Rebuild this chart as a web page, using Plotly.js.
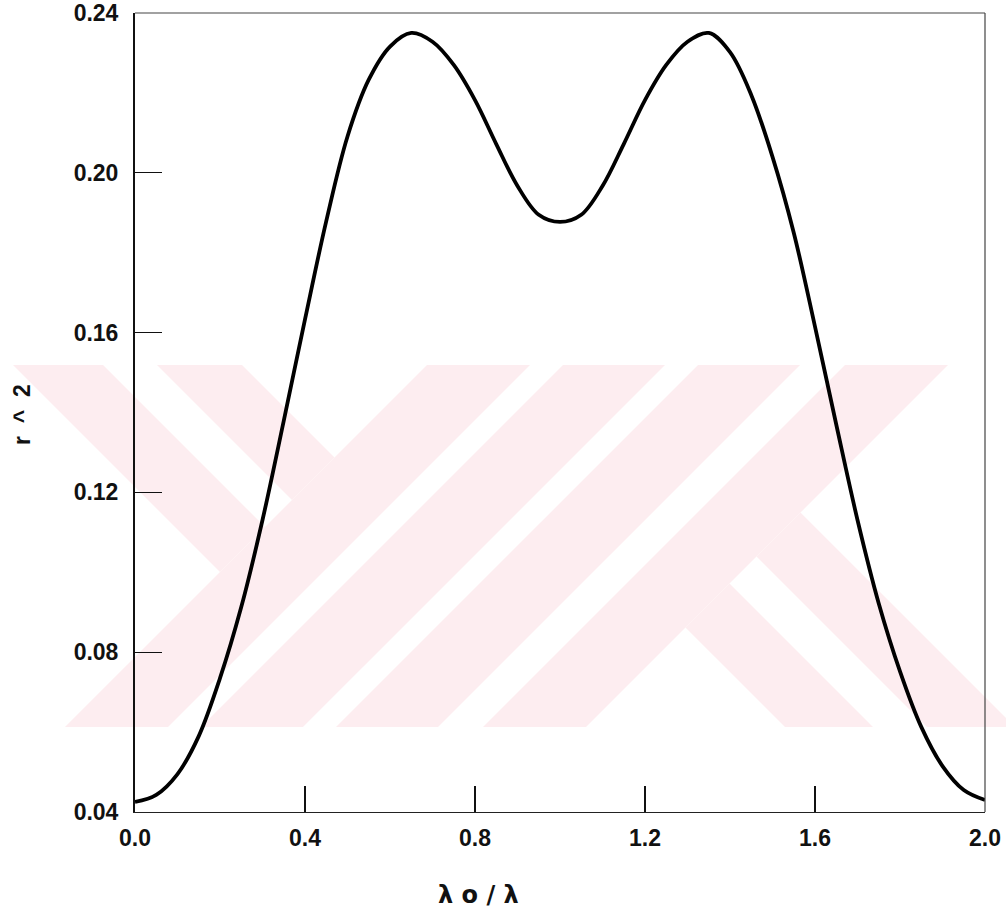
<!DOCTYPE html>
<html>
<head>
<meta charset="utf-8">
<script src="https://cdn.plot.ly/plotly-3.0.1.min.js"></script>
<style>html,body{margin:0;padding:0;background:#fff;} #chart{width:1006px;height:910px;}</style>
</head>
<body>
<div id="chart"></div>
<script>
// ---- data ----
const xValues = [0.00,0.05,0.10,0.15,0.20,0.25,0.30,0.35,0.40,0.45,0.50,0.55,0.60,0.65,0.70,0.75,0.80,0.85,0.90,0.95,
                 1.00,1.05,1.10,1.15,1.20,1.25,1.30,1.35,1.40,1.45,1.50,1.55,1.60,1.65,1.70,1.75,1.80,1.85,1.90,1.95,2.00];
const rSquared = [0.0425,0.0443,0.0495,0.0590,0.0735,0.0913,0.1131,0.1379,0.1633,0.1879,0.2091,0.2233,0.2316,0.2350,0.2328,0.2270,0.2182,0.2072,0.1967,0.1895,
                  0.1877,0.1895,0.1967,0.2072,0.2182,0.2270,0.2328,0.2350,0.2302,0.2195,0.2040,0.1850,0.1615,0.1370,0.1131,0.0922,0.0752,0.0613,0.0515,0.0455,0.0430];
const xTickVals = [0.0,0.4,0.8,1.2,1.6,2.0];
const xTickText = ['0.0','0.4','0.8','1.2','1.6','2.0'];
const yTickVals = [0.04,0.08,0.12,0.16,0.20,0.24];
const yTickText = ['0.04','0.08','0.12','0.16','0.20','0.24'];
const xTitle = 'λ\u00a0o\u00a0/\u00a0λ';
const yTitle = 'r\u00a0\u00a0^\u00a0\u00a02';

// ---- background watermark (pixel polygons converted to paper coords) ----
const L = 135, R = 985, T = 13, B = 812;
function toPaper(pts){
  return 'M ' + pts.map(p => ((p[0]-L)/(R-L)).toFixed(4) + ',' + ((B-p[1])/(B-T)).toFixed(4)).join(' L ') + ' Z';
}
const wmPolys = [
  [[13,365],[103,365],[265,527],[220,572]],
  [[157,365],[242,365],[334.5,457.5],[292,500]],
  [[427,365],[530,365],[168,727],[65,727]],
  [[563,365],[665,365],[303,727],[201,727]],
  [[698,365],[800,365],[438,727],[336,727]],
  [[845,365],[948,365],[586,727],[483,727]],
  [[685.5,627.5],[729.5,583.5],[873,727],[785,727]],
  [[756.5,556.5],[800.5,512.5],[1006,718],[1006,727],[927,727]]
];
const shapes = wmPolys.map(p => ({
  type:'path', xref:'paper', yref:'paper', path: toPaper(p),
  fillcolor:'#fdedf0', line:{width:0}, layer:'below'
}));
// thin top and right frame lines
shapes.push({type:'line', xref:'paper', yref:'paper', x0:0, x1:1, y0:1, y1:1, line:{color:'#444', width:1.2}});
shapes.push({type:'line', xref:'paper', yref:'paper', x0:1, x1:1, y0:0, y1:1, line:{color:'#444', width:1.2}});

const trace = {
  x: xValues, y: rSquared, type:'scatter', mode:'lines',
  line:{color:'#000', width:3.8, shape:'spline', smoothing:1},
  hoverinfo:'skip'
};

const tickFont = {family:'"Liberation Sans", Arial, sans-serif', size:23, color:'#111', weight:'bold'};

const layout = {
  width:1006, height:910,
  margin:{l:L, r:1006-R, t:T, b:910-B, pad:0},
  paper_bgcolor:'#fff', plot_bgcolor:'rgba(0,0,0,0)',
  showlegend:false,
  shapes: shapes,
  xaxis:{
    range:[0,2], tickmode:'array', tickvals:xTickVals, ticktext:xTickText,
    ticks:'inside', ticklen:26, tickwidth:1.5, tickcolor:'#111',
    showline:true, linecolor:'#222', linewidth:1.4, mirror:false,
    showgrid:false, zeroline:false, tickfont:tickFont, ticklabelstandoff:5
  },
  yaxis:{
    range:[0.04,0.24], tickmode:'array', tickvals:yTickVals, ticktext:yTickText,
    ticks:'inside', ticklen:27, tickwidth:1.2, tickcolor:'#111',
    showline:true, linecolor:'#111', linewidth:2, mirror:false,
    showgrid:false, zeroline:false, tickfont:tickFont, ticklabelstandoff:10
  },
  annotations:[
    {text:xTitle, xref:'paper', yref:'paper', x:(478-L)/(R-L), y:(B-895)/(B-T),
     showarrow:false, xanchor:'center', yanchor:'middle',
     font:{family:'"DejaVu Sans", sans-serif', size:24, color:'#111', weight:'bold'}},
    {text:yTitle, xref:'paper', yref:'paper', x:(22-L)/(R-L), y:(B-415)/(B-T),
     showarrow:false, xanchor:'center', yanchor:'middle', textangle:-90,
     font:{family:'"Liberation Sans", Arial, sans-serif', size:23, color:'#111', weight:'bold'}}
  ]
};

Plotly.newPlot('chart', [trace], layout, {staticPlot:true, displayModeBar:false});
</script>
</body>
</html>
